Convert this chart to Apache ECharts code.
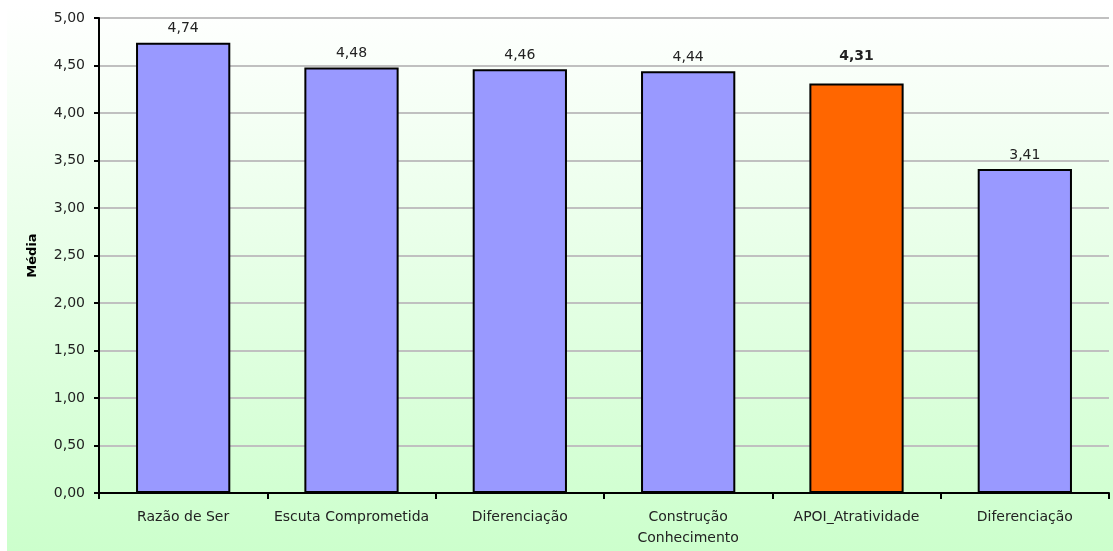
<!DOCTYPE html>
<html>
<head>
<meta charset="utf-8">
<script src="https://cdn.jsdelivr.net/npm/echarts@6/dist/echarts.min.js"></script>
<style>
  html, body { margin: 0; padding: 0; background: #fff; }
  #chart { width: 1113px; height: 551px; }
</style>
</head>
<body>
<div id="chart"></div>
<script>
  const categories = ['Razão de Ser', 'Escuta Comprometida', 'Diferenciação', 'Construção\nConhecimento', 'APOI_Atratividade', 'Diferenciação']
  const medias = [4.74, 4.48, 4.46, 4.44, 4.31, 3.41]
  const highlightIndex = 4
  const yTicks = { min: 0, max: 5, step: 0.5 }

  const fmt = v => v.toFixed(2).replace('.', ',')
  const font = 'DejaVu Sans, Verdana, sans-serif'

  const chart = echarts.init(document.getElementById('chart'))
  const options = {
    animation: false,
    textStyle: { fontFamily: font },
    graphic: [{
      type: 'rect',
      left: 7, top: 4,
      shape: { width: 1106, height: 547 },
      z: -10,
      style: {
        fill: new echarts.graphic.LinearGradient(0, 0, 0, 1, [
          { offset: 0, color: '#ffffff' },
          { offset: 1, color: '#ccffcc' },
        ]),
      },
    }],
    grid: { left: 99, right: 4, top: 18, bottom: 58, containLabel: false },
    xAxis: {
      type: 'category',
      data: categories,
      axisLine: { lineStyle: { color: '#000', width: 2 } },
      axisTick: { show: true, length: 6, lineStyle: { color: '#000', width: 2 } },
      axisLabel: { interval: 0, color: '#222', fontSize: 14, margin: 14, lineHeight: 21, fontFamily: font },
      splitLine: { show: false },
    },
    yAxis: {
      type: 'value',
      min: yTicks.min, max: yTicks.max, interval: yTicks.step,
      name: 'Média',
      nameLocation: 'middle',
      nameGap: 60,
      nameRotate: 90,
      nameTextStyle: { color: '#000', fontWeight: 'bold', fontSize: 13, fontFamily: font },
      axisLine: { show: true, lineStyle: { color: '#000', width: 2 } },
      axisTick: { show: true, length: 5, lineStyle: { color: '#000', width: 2 } },
      axisLabel: { color: '#222', fontSize: 14, margin: 14, formatter: v => fmt(v), fontFamily: font },
      splitLine: { show: true, lineStyle: { color: '#c0c0c0', width: 2 } },
    },
    series: [{
      type: 'bar',
      barWidth: '56%',
      data: medias.map((v, i) => ({
        value: v,
        itemStyle: { color: i === highlightIndex ? '#ff6600' : '#9999ff', borderColor: '#000', borderWidth: 2 },
        label: i === highlightIndex ? { fontWeight: 'bold', distance: 20 } : {},
      })),
      label: {
        show: true, position: 'top', distance: 7,
        color: '#222', fontSize: 14, fontFamily: font,
        formatter: p => fmt(p.value),
      },
    }],
  }
  chart.setOption(options)
</script>
</body>
</html>
